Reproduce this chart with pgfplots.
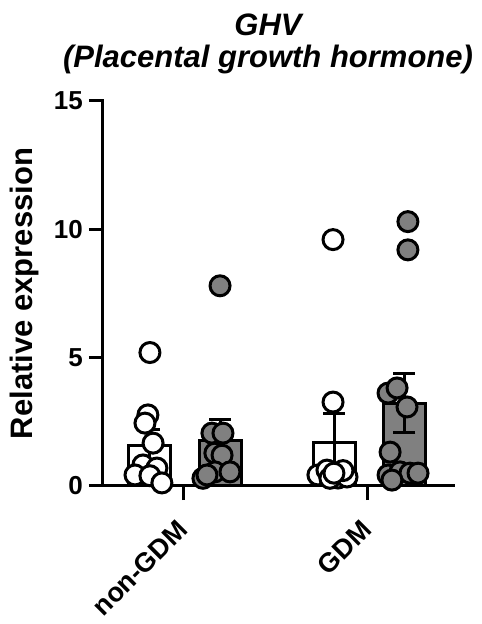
\documentclass[border=0pt]{standalone}
\usepackage{pgfplots}
\pgfplotsset{compat=1.18}
\usepackage{fontspec}
\setmainfont{Liberation Sans}
\definecolor{gp}{RGB}{128,128,128}
\begin{document}
\begin{tikzpicture}
\useasboundingbox (0,0) rectangle (482pt,624pt);
\begin{axis}[
  at={(103pt,138pt)}, anchor=south west,
  scale only axis, width=350pt, height=385pt,
  xmin=0.56, xmax=2.462, ymin=0, ymax=15,
  axis x line*=bottom, axis y line*=left,
  axis line style={-, line width=3pt, line cap=rect},
  xtick={1,2}, xticklabels={non-GDM,GDM},
  ytick={0,5,10,15},
  tick align=outside, major tick length=14pt,
  tick style={line width=3pt, black},
  /pgf/number format/assume math mode=true,
  tick label style={font=\fontsize{26}{26}\selectfont\bfseries},
  yticklabel style={anchor=east, inner sep=0pt, xshift=-6pt},
  xticklabel style={xshift=-1pt, yshift=-25pt, rotate=45, anchor=east, inner sep=0pt, font=\fontsize{27}{27}\selectfont\bfseries},
  every axis title/.style={at={(0.5,1)}, anchor=south, inner sep=0pt, yshift=27pt, xshift=-10pt, align=center, font=\fontsize{31}{32}\selectfont\bfseries\itshape},
  title={GHV\\(Placental growth hormone)},
  every axis y label/.style={at={(0,0.5)}, xshift=-64pt, rotate=90, anchor=south, inner sep=0pt, font=\fontsize{31}{31}\selectfont\bfseries},
  ylabel={Relative expression},
  clip=false,
]
% bars with SEM
\addplot[ybar, bar width=42pt, bar shift=0pt, fill=white, draw=black, line width=3pt,
  error bars/.cd, y dir=both, y explicit, error mark=|,
  error bar style={line width=3pt, black},
  error mark options={line width=3pt, mark size=11pt, black}]
  coordinates {(0.8125,1.57) +- (0,0.62) (1.818,1.71) +- (0,1.13)};
\addplot[ybar, bar width=42pt, bar shift=0pt, fill=gp, draw=black, line width=3pt,
  error bars/.cd, y dir=both, y explicit, error mark=|,
  error bar style={line width=3pt, black},
  error mark options={line width=3pt, mark size=11pt, black}]
  coordinates {(1.196,1.78) +- (0,0.80) (2.198,3.22) +- (0,1.15)};
% individual points: white
\addplot[only marks, mark=*, mark size=10pt, mark options={fill=white, draw=black, line width=3pt}]
  coordinates {
  (0.815,5.2) (0.804,2.77) (0.788,2.45) (0.832,1.67) (0.777,0.82)
  (0.853,0.70) (0.734,0.43) (0.815,0.40) (0.880,0.12)
  (1.810,9.6) (1.810,3.27) (1.728,0.43) (1.777,0.62) (1.837,0.31)
  (1.886,0.35) (1.864,0.60) (1.793,0.30) (1.815,0.50)
  };
% individual points: grey
\addplot[only marks, mark=*, mark size=10pt, mark options={fill=gp, draw=black, line width=3pt}]
  coordinates {
  (1.196,7.8) (1.152,2.06) (1.212,2.06) (1.168,1.28) (1.207,1.20)
  (1.103,0.30) (1.168,0.55) (1.250,0.55) (1.125,0.43)
  (2.217,10.3) (2.217,9.2) (2.109,3.62) (2.158,3.82) (2.212,3.08)
  (2.120,1.32) (2.109,0.43) (2.174,0.55) (2.228,0.50) (2.272,0.50) (2.130,0.23)
  };
\end{axis}
\end{tikzpicture}
\end{document}
